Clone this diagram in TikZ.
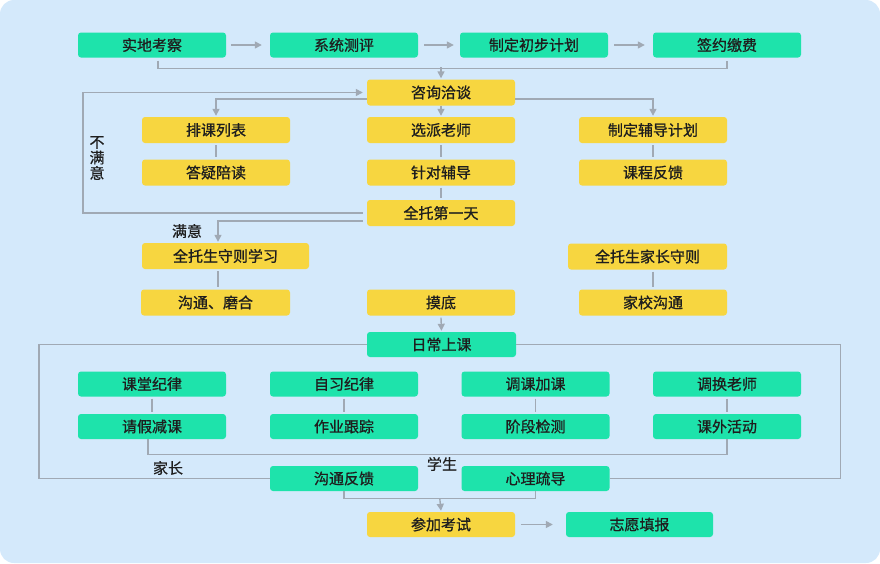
\documentclass[tikz,border=0pt]{standalone}
\usepackage{fontspec}
\newfontfamily\cjk[FakeBold=0.9]{Noto Sans CJK SC}
\newfontfamily\cjkl[FakeBold=0.5]{Noto Sans CJK SC}
\usetikzlibrary{calc,arrows.meta}
\definecolor{bgblue}{HTML}{D4E9FB}
\definecolor{boxgreen}{HTML}{1EE3AB}
\definecolor{boxyellow}{HTML}{F7D640}
\definecolor{linegray}{HTML}{A0A9B4}
\definecolor{txt}{HTML}{1E1E1E}
\begin{document}
\begin{tikzpicture}[x=1pt,y=-1pt,
  base/.style={rectangle, rounded corners=3pt, minimum width=148pt, minimum height=25pt, inner sep=0pt,
    font=\cjk\fontsize{15}{18}\selectfont, text=txt},
  gbox/.style={base, fill=boxgreen},
  ybox/.style={base, fill=boxyellow},
  conn/.style={draw=linegray, line width=1.4pt},
  arr/.style={conn, -{Triangle[length=7pt,width=7pt]}},
  lbl/.style={font=\cjkl\fontsize{15}{16}\selectfont, text=txt, inner sep=0pt}
]
\useasboundingbox (0,0) rectangle (880,563);
\fill[bgblue, rounded corners=14pt] (0,0) rectangle (880,563);

% row 1
\node[gbox] (a1) at (152,45) {实地考察};
\node[gbox] (a2) at (344,45) {系统测评};
\node[gbox] (a3) at (534,45) {制定初步计划};
\node[gbox] (a4) at (727,45) {签约缴费};

% consultation block
\node[ybox, minimum height=26pt] (zx) at (441,92.5) {咨询洽谈};
\node[ybox, minimum height=26pt] (pk) at (216,130) {排课列表};
\node[ybox, minimum height=26pt] (dy) at (216,172.5) {答疑陪读};
\node[ybox, minimum height=26pt] (xp) at (441,130) {选派老师};
\node[ybox, minimum height=26pt] (zd) at (441,172.5) {针对辅导};
\node[ybox, minimum height=26pt] (qt) at (441,213) {全托第一天};
\node[ybox, minimum height=26pt] (zf) at (653,130) {制定辅导计划};
\node[ybox, minimum height=26pt] (kc) at (653,172.5) {课程反馈};

\node[ybox, minimum height=26pt, minimum width=167pt] (sx) at (225.5,256) {全托生守则学习};
\node[ybox, minimum height=26pt, minimum width=149pt] (gt) at (215.5,302.5) {沟通、磨合};
\node[ybox, minimum height=26pt] (md) at (441,302.5) {摸底};
\node[ybox, minimum height=26pt, minimum width=159pt] (jz) at (647.5,256.5) {全托生家长守则};
\node[ybox, minimum height=26pt] (jx) at (653,302.5) {家校沟通};

\node[gbox, minimum width=149pt] (rc) at (441.5,344.5) {日常上课};

\node[gbox] (b1) at (152,384) {课堂纪律};
\node[gbox] (b2) at (344,384) {自习纪律};
\node[gbox] (b3) at (535.5,384) {调课加课};
\node[gbox] (b4) at (727,384) {调换老师};
\node[gbox] (c1) at (152,426.5) {请假减课};
\node[gbox] (c2) at (344,426.5) {作业跟踪};
\node[gbox] (c3) at (535.5,426.5) {阶段检测};
\node[gbox] (c4) at (727,426.5) {课外活动};

\node[gbox] (gf) at (344,478.5) {沟通反馈};
\node[gbox] (xl) at (535.5,478.5) {心理疏导};

\node[ybox] (ck) at (441,524.5) {参加考试};
\node[gbox, minimum width=147pt] (zy) at (639.5,524.5) {志愿填报};

% labels
\node[lbl, align=center, font=\cjkl\fontsize{15}{15.5}\selectfont] (bmy) at (97,158) {不\\满\\意};
\node[lbl] (my) at (187,231) {满意};
\node[lbl] (jzl) at (168,468) {家长};
\node[lbl] (xsl) at (442,464) {学生};

% row 1 arrows
\draw[arr] ([xshift=5pt]a1.east) -- ([xshift=-8pt]a2.west);
\draw[arr] ([xshift=6pt]a2.east) -- ([xshift=-6pt]a3.west);
\draw[arr] ([xshift=6pt]a3.east) -- ([xshift=-8pt]a4.west);
\draw[conn] ($(a1.south)+(6,3)$) |- ($(a4.south)+(0,11)$) -- ($(a4.south)+(0,3)$);
\draw[arr] ($(zx.north)+(0,-12)$) -- ($(zx.north)+(0,-1)$);

% consultation arrows
\draw[arr] (zx.south) -- ([yshift=1pt]xp.north);
\draw[arr] ($(zx.west)+(0,6.5)$) -| ([yshift=1pt]pk.north);
\draw[arr] ($(zx.east)+(0,6.5)$) -| ([yshift=1pt]zf.north);
\draw[conn, shorten <=2pt, shorten >=2pt] (pk) -- (dy);
\draw[conn, shorten <=2pt, shorten >=2pt] (xp) -- (zd);
\draw[conn, shorten <=2pt, shorten >=2pt] (zd) -- (qt);
\draw[conn, shorten <=2pt, shorten >=2pt] (zf) -- (kc);

% not satisfied loop
\draw[arr] ([xshift=-4pt]qt.west) -- ++(-280,0) |- ([xshift=-4pt]zx.west);
% satisfied
\draw[arr] ($(qt.west)+(-4,8)$) -| ($(sx.north)+(-7.5,-1)$);

\draw[conn, shorten <=2pt, shorten >=2pt] ($(sx.south)+(-7.5,0)$) -- ($(gt.north)+(2.5,0)$);
\draw[conn, shorten <=2pt, shorten >=2pt] (jz.south -| jx.north) -- (jx.north);
\draw[arr] ([yshift=-2pt]md.south) -- ([yshift=1pt]rc.north);

% big loop
\draw[conn] (rc.west) -- ++(-328,0) |- (gf.west);
\draw[conn] (rc.east) -- ++(324,0) |- (xl.east);

\foreach \i in {1,2,3,4}{
  \draw[conn, shorten <=2pt, shorten >=2pt] (b\i) -- (c\i);
}
\draw[conn] ($(c1.south)+(-4,0)$) |- ($(c4.south)+(0,15)$) -- (c4.south);

\draw[conn] (gf.south) |- ($(xl.south)+(0,7)$) -- (xl.south);
\draw[arr] ($(gf.south)!0.5!(xl.south)+(0,7)$) -- ([yshift=1pt]ck.north);
\draw[arr] ([xshift=6pt]ck.east) -- ([xshift=-13pt]zy.west);
\end{tikzpicture}
\end{document}
